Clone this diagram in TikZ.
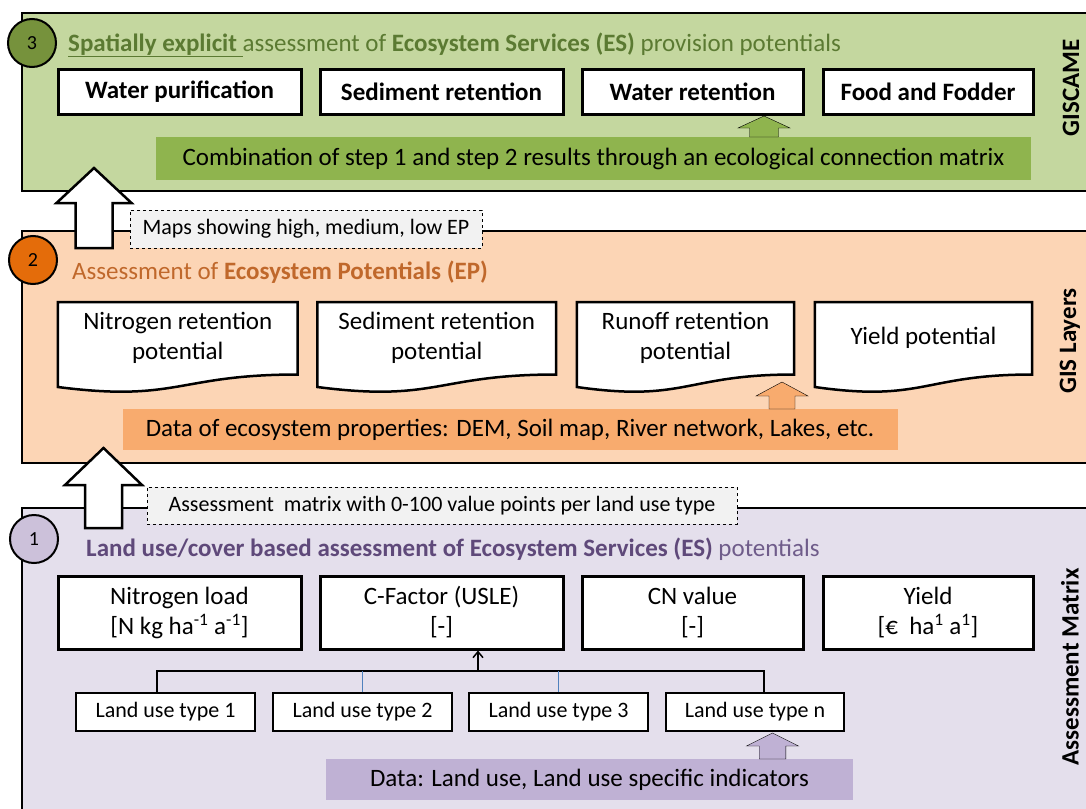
\documentclass[tikz,border=0pt]{standalone}
\usepackage{fontspec}
\setmainfont{Carlito}
\usetikzlibrary{calc,positioning,arrows.meta}

\definecolor{gpanel}{HTML}{C4D79F}
\definecolor{gbar}{HTML}{8FB44E}
\definecolor{gstep}{HTML}{76923C}
\definecolor{gtext}{HTML}{5B7A32}
\definecolor{opanel}{HTML}{FCD5B5}
\definecolor{obar}{HTML}{F8AB6E}
\definecolor{ostep}{HTML}{E46C0A}
\definecolor{otext}{HTML}{C0682B}
\definecolor{ppanel}{HTML}{E4DFEC}
\definecolor{pbar}{HTML}{BFB1D4}
\definecolor{pstep}{HTML}{CCC1DA}
\definecolor{ptext}{HTML}{5F497A}
\definecolor{ptextlight}{HTML}{6F5C8A}
\definecolor{treeblue}{HTML}{4F81BD}
\definecolor{labelgray}{HTML}{F2F2F2}

\pgfdeclarelayer{panels}
\pgfdeclarelayer{docs}
\pgfsetlayers{panels,docs,main}

\newcommand{\fsz}[1]{\fontsize{#1}{30}\selectfont}
% #1 style, #2 centre x, #3 bottom y, #4 head base y, #5 tip y, #6 shaft half, #7 head half
\newcommand{\blockup}[7]{%
  \draw[#1] (#2-#6,#3) -- (#2-#6,#4) -- (#2-#7,#4) -- (#2,#5)
    -- (#2+#7,#4) -- (#2+#6,#4) -- (#2+#6,#3) -- cycle;}

\tikzset{
    panel/.style = {
        draw = black,
        line width = 2.5pt,
        },
    stepnum/.style = {
        circle, draw = black,
        line width = 2pt,
        minimum size = 48pt,
        inner sep = 0pt,
        font = \fsz{20},
        },
    esbox/.style = {
        draw = black, fill = white,
        line width = 3pt,
        minimum height = 45pt,
        inner sep = 0pt,
        font = \fsz{25}\bfseries,
        },
    docbox/.style = {
        minimum height = 72pt,
        inner sep = 0pt,
        align = center,
        font = \fsz{25},
        },
    docline/.style = {
        draw = black, fill = white,
        line width = 2.5pt,
        },
    indbox/.style = {
        draw = black, fill = white,
        line width = 3pt,
        minimum height = 73pt,
        inner sep = 0pt,
        align = center,
        font = \fsz{25},
        },
    lubox/.style = {
        draw = black, fill = white,
        line width = 1.2pt,
        minimum height = 38pt,
        inner sep = 0pt,
        font = \fsz{22},
        },
    databar/.style = {
        inner sep = 0pt,
        font = \fsz{25},
        },
    maplabel/.style = {
        draw = black, dashed, fill = labelgray,
        line width = 1pt,
        inner sep = 0pt,
        font = \fsz{22},
        },
    sidelabel/.style = {
        rotate = 90,
        inner sep = 0pt,
        font = \fsz{25}\bfseries,
        },
    bigarrow/.style = {
        draw = black, fill = white,
        line width = 2.5pt,
        },
    tree/.style = {
        draw = black,
        line width = 1.5pt,
        },
    tree blue/.style = {
        draw = treeblue,
        line width = 1pt,
        },
}

\begin{document}
\begin{tikzpicture}[x=1pt, y=-1pt, >={Straight Barb[length=6pt,width=10pt]}]
    \useasboundingbox (0,0) rectangle (1086,808);

    % panels
    \begin{pgfonlayer}{panels}
        \draw[panel, fill=gpanel] (22,13) rectangle (1100,191);
        \draw[panel, fill=opanel] (22,231) rectangle (1100,463);
        \draw[panel, fill=ppanel] (22,508) rectangle (1100,830);
    \end{pgfonlayer}

    % step 3: GISCAME
    \node[stepnum, fill=gstep] (s3) at (32,43) {3};
    \node[anchor=west, inner sep=0pt, text=gtext, font=\fsz{25}] (t3) at (68,45)
        {\underline{\textbf{Spatially explicit }}assessment of \textbf{Ecosystem Services (ES)} provision potentials};
    \node[esbox, minimum width=243pt] (wp) at (179.5,91.5) {Water purification};
    \node[esbox, minimum width=243pt] (sr) at (441.5,91.5) {Sediment retention};
    \node[esbox, minimum width=221pt] (wr) at (692.5,91.5) {Water retention};
    \node[esbox, minimum width=210pt] (ff) at (928,91.5) {Food and Fodder};
    \node[databar, fill=gbar, minimum width=875pt, minimum height=43pt] (gbar) at (593.5,158.5)
        {Combination of step 1 and step 2 results through an ecological connection matrix};
    \blockup{fill=gbar}{764}{137}{128}{116}{14.5}{26}
    \node[sidelabel] (lab3) at (1071,88) {GISCAME};

    % step 2: GIS layers
    \node[stepnum, fill=ostep] (s2) at (33,260) {2};
    \node[anchor=west, inner sep=0pt, text=otext, font=\fsz{25}] (t2) at (72,272)
        {Assessment of \textbf{Ecosystem Potentials (EP)}};
    \node[docbox, minimum width=239.5pt] (nrp) at (177.75,338.3) {Nitrogen retention\\potential};
    \node[docbox, minimum width=238.5pt] (srp) at (436.75,338.3) {Sediment retention\\potential};
    \node[docbox, minimum width=217pt] (rrp) at (685.5,338.3) {Runoff retention\\potential};
    \node[docbox, minimum width=217pt] (ypt) at (923.5,338.3) {Yield potential};
    \begin{pgfonlayer}{docs}
        \foreach \d in {nrp,srp,rrp,ypt}
            \draw[docline] (\d.north west) -- (\d.north east) -- (\d.south east)
                .. controls (\d.south) and ($(\d.south)+(0,28)$) .. ($(\d.south west)+(0,12.5)$) -- cycle;
    \end{pgfonlayer}
    \node[databar, fill=obar, minimum width=775pt, minimum height=41pt] (obar) at (510,429.5)
        {Data of ecosystem properties: DEM, Soil map, River network, Lakes, etc.};
    \blockup{fill=obar}{782}{409}{396}{382}{13}{26}
    \node[sidelabel] (lab2) at (1070,341) {GIS Layers};

    % step 1: assessment matrix
    \node[stepnum, fill=pstep] (s1) at (34,539) {1};
    \node[anchor=west, inner sep=0pt, text=ptext, font=\fsz{25}] (t1) at (86,549)
        {\textbf{Land use/cover based assessment of Ecosystem Services (ES)} \textcolor{ptextlight}{potentials}};
    \node[indbox, minimum width=243pt] (nl) at (179.5,612.5) {Nitrogen load\\{}[N kg ha\textsuperscript{-1} a\textsuperscript{-1}]};
    \node[indbox, minimum width=243pt] (cf) at (441.5,612.5) {C-Factor (USLE)\\{}[-]};
    \node[indbox, minimum width=221pt] (cn) at (692.5,612.5) {CN value\\{}[-]};
    \node[indbox, minimum width=210pt] (yd) at (928,612.5) {Yield\\{}[€~~ha\textsuperscript{1} a\textsuperscript{1}]};
    \node[lubox, minimum width=179pt] (lu1) at (165.5,712) {Land use type 1};
    \node[lubox, minimum width=179pt] (lu2) at (362.5,712) {Land use type 2};
    \node[lubox, minimum width=179pt] (lu3) at (558.5,712) {Land use type 3};
    \node[lubox, minimum width=178pt] (lun) at (755,712) {Land use type n};
    \coordinate (hub) at (478,671);
    \coordinate (n1) at ([xshift=-8.5pt]lu1.north);
    \coordinate (nn) at ([xshift=9pt]lun.north);
    \draw[tree] (n1) |- (hub) -| (nn);
    \draw[tree blue] (lu2.north) -- (lu2.north |- hub);
    \draw[tree blue] (lu3.north) -- (lu3.north |- hub);
    \draw[tree, ->] (hub) -- (hub |- cf.south);
    \node[databar, fill=pbar, minimum width=527pt, minimum height=41pt] (pbar) at (589.5,779.5)
        {Data: Land use, Land use specific indicators};
    \blockup{fill=pbar}{772.5}{759}{746}{733}{13.3}{26}
    \node[sidelabel] (lab1) at (1070,667) {Assessment Matrix};

    % transfer arrows between steps
    \blockup{bigarrow}{94}{248}{203}{168}{18.5}{37.5}
    \blockup{bigarrow}{103.5}{528}{485}{448}{18.5}{38.5}
    \node[maplabel, minimum width=352pt, minimum height=38pt] (ep) at (306,229)
        {Maps showing high, medium, low EP};
    \node[maplabel, minimum width=590pt, minimum height=37pt] (am) at (442,505.8)
        {Assessment~ matrix with 0-100 value points per land use type};
\end{tikzpicture}
\end{document}
